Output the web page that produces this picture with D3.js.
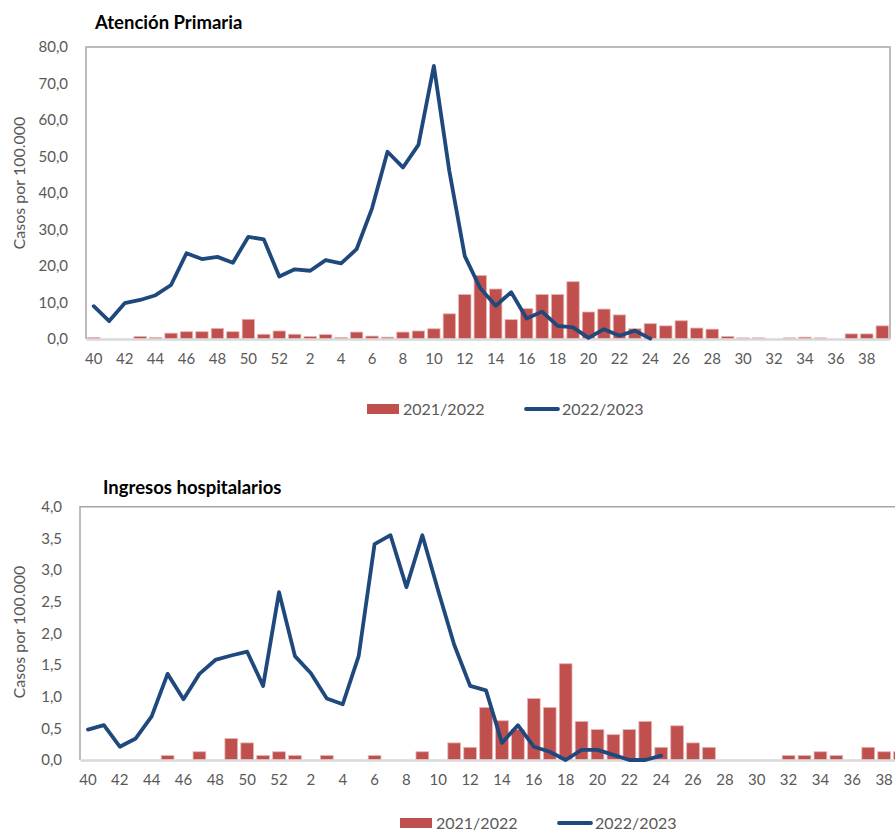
<!DOCTYPE html>
<html><head><meta charset="utf-8">
<script src="https://cdn.jsdelivr.net/npm/d3@7/dist/d3.min.js"></script>
<style>
html,body{margin:0;padding:0;background:#fff;overflow:hidden;}
svg{display:block;font-family:Lato,"Open Sans",sans-serif;}
</style></head>
<body>
<svg id="chart" width="895" height="834"></svg>
<script>
const weeks = [40,41,42,43,44,45,46,47,48,49,50,51,52,1,2,3,4,5,6,7,8,9,10,11,12,13,14,15,16,17,18,19,20,21,22,23,24,25,26,27,28,29,30,31,32,33,34,35,36,37,38,39];
const seriesNames = ["2021/2022","2022/2023"];

// Atención Primaria
const apBars2122 = [0.4,0,0,0.7,0.4,1.6,2.0,2.0,2.9,2.0,5.4,1.3,2.2,
  1.3,0.7,1.2,0.4,1.9,0.8,0.5,1.9,2.2,2.8,6.9,12.2,17.4,13.7,5.3,8.3,12.2,12.2,15.7,7.4,8.2,6.6,2.8,4.2,3.6,5.0,3.0,2.7,0.7,0.3,0.3,0,0.3,0.5,0.3,0,1.4,1.4,3.6];
const apLine2223 = [9.0,4.9,9.8,10.7,12.0,14.8,23.5,21.9,22.5,20.9,28.0,27.3,17.1,
  19.1,18.7,21.6,20.7,24.6,35.8,51.3,47.0,53.2,74.8,46.0,22.7,13.9,9.1,12.8,5.6,7.5,3.6,3.2,0.3,2.7,0.9,2.3,0.1,
  null,null,null,null,null,null,null,null,null,null,null,null,null,null,null];
const apTicks = [0,10,20,30,40,50,60,70,80];

// Ingresos hospitalarios
const hoBars2122 = [0,0,0,0,0,0.07,0,0.13,0,0.34,0.27,0.07,0.13,
  0.07,0,0.07,0,0,0.07,0,0,0.13,0,0.27,0.2,0.83,0.62,0.48,0.97,0.83,1.52,0.61,0.48,0.40,0.48,0.61,0.2,0.54,0.27,0.2,0,0,0,0,0.07,0.07,0.13,0.07,0,0.2,0.13,0.13];
const hoLine2223 = [0.48,0.55,0.21,0.34,0.69,1.36,0.96,1.36,1.58,1.65,1.71,1.17,2.65,
  1.64,1.37,0.97,0.88,1.64,3.41,3.55,2.73,3.55,2.67,1.82,1.17,1.10,0.27,0.55,0.21,0.13,0.0,0.16,0.16,0.08,0.0,0.0,0.07,
  null,null,null,null,null,null,null,null,null,null,null,null,null,null,null];
const hoTicks = [0,0.5,1,1.5,2,2.5,3,3.5,4];

const svg = d3.select("#chart");
const barColor = "#C0504D", lineColor = "#1F497D", textColor = "#595959";
const fmt = v => d3.format(".1f")(v).replace(".", ",");

function panel(cfg){
  const g = svg.append("g");
  const x = d3.scaleBand().domain(weeks.map(String)).range([cfg.x0, cfg.x1]).paddingInner(0.2).paddingOuter(0.1);
  const y = d3.scaleLinear().domain([0, cfg.max]).range([cfg.yZero, cfg.yTop]);
  const xc = (d,i) => x(String(weeks[i])) + x.bandwidth()/2;

  g.append("path")
    .attr("d", `M${cfg.x0},${cfg.yZero}V${cfg.yTop}H${cfg.x1}V${cfg.yZero}`)
    .attr("fill","none").attr("stroke","#A6A6A6").attr("stroke-width",1.5);

  g.append("g").selectAll("rect").data(cfg.bars).join("rect")
    .attr("x",(d,i)=>x(String(weeks[i])))
    .attr("width",x.bandwidth())
    .attr("y",d=>y(d))
    .attr("height",d=>cfg.yZero - y(d))
    .attr("fill",barColor)
    .attr("stroke","#E6B4B3").attr("stroke-width",d=>d>0?0.8:0);

  const xa = g.append("g").attr("transform",`translate(0,${cfg.yZero})`)
    .call(d3.axisBottom(x).tickSize(0).tickPadding(14)
      .tickValues(weeks.filter((w,i)=>i%2===0).map(String)));
  xa.select(".domain").attr("stroke","#D9D9D9").attr("stroke-width",2.5);
  xa.selectAll("text").attr("fill",textColor).style("font-size","15px").style("font-family","Lato");

  const ya = g.append("g").attr("transform",`translate(${cfg.x0},0)`)
    .call(d3.axisLeft(y).tickValues(cfg.ticks).tickFormat(fmt).tickSize(0).tickPadding(18));
  ya.select(".domain").remove();
  ya.selectAll("text").attr("fill",textColor).style("font-size","15px").style("font-family","Lato");

  const line = d3.line()
    .defined(d=>d!==null)
    .x((d,i)=>xc(d,i))
    .y(d=>y(d))
    .curve(d3.curveLinear);
  g.append("path").datum(cfg.line)
    .attr("d", line)
    .attr("fill","none").attr("stroke",lineColor).attr("stroke-width",3.8)
    .attr("stroke-linejoin","round").attr("stroke-linecap","round");

  g.append("text").attr("x",cfg.titleX).attr("y",cfg.titleY)
    .text(cfg.title).attr("fill","#000").style("font-weight","bold").style("font-size","18.5px");

  g.append("text")
    .attr("transform",`translate(25,${cfg.yTitleC}) rotate(-90)`)
    .attr("text-anchor","middle").attr("fill",textColor).style("font-size","16px")
    .text("Casos por 100.000");

  const lg = g.append("g");
  lg.append("rect").attr("x",cfg.legX).attr("y",cfg.legY-5).attr("width",32).attr("height",10).attr("fill",barColor);
  lg.append("text").attr("x",cfg.legX+36).attr("y",cfg.legY+6).attr("fill",textColor).style("font-size","16px").text(seriesNames[0]);
  lg.append("line").attr("x1",cfg.legX+159).attr("x2",cfg.legX+191).attr("y1",cfg.legY).attr("y2",cfg.legY)
    .attr("stroke",lineColor).attr("stroke-width",3.8).attr("stroke-linecap","round");
  lg.append("text").attr("x",cfg.legX+195).attr("y",cfg.legY+6).attr("fill",textColor).style("font-size","16px").text(seriesNames[1]);
}

panel({x0:86,x1:890,yTop:47,yZero:339,max:80,ticks:apTicks,bars:apBars2122,line:apLine2223,
  title:"Atención Primaria",titleX:95,titleY:29,yTitleC:183,legX:367,legY:409});
panel({x0:80,x1:908,yTop:506.7,yZero:760,max:4,ticks:hoTicks,bars:hoBars2122,line:hoLine2223,
  title:"Ingresos hospitalarios",titleX:103,titleY:494,yTitleC:632,legX:400,legY:823});
</script>
</body></html>
